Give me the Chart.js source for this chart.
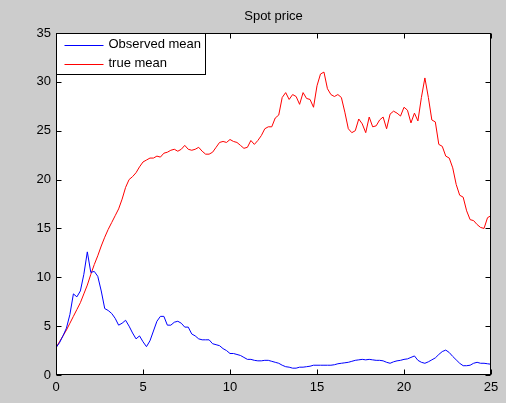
<!DOCTYPE html>
<html>
<head>
<meta charset="utf-8">
<script src="https://cdn.jsdelivr.net/npm/chart.js@4.4.1/dist/chart.umd.min.js"></script>
<style>
  html, body { margin: 0; padding: 0; background: #cccccc; }
  #wrap { width: 506px; height: 403px; }
</style>
</head>
<body>
<div id="wrap"><canvas id="spotChart" width="506" height="403"></canvas></div>
<script>
// sample spacing along the x axis (time)
const STEP = 0.2;

const xTicks = [0, 5, 10, 15, 20, 25];
const yTicks = [0, 5, 10, 15, 20, 25, 30, 35];

const seriesNames = ['Observed mean', 'true mean'];

// Observed mean, one value per STEP from 0 to 25
const observedMean = [
    2.8, 3.3, 4.0, 4.8, 6.2, 8.3, 8.0, 8.6, 10.3, 12.6,
    10.5, 10.6, 10.1, 8.6, 6.8, 6.6, 6.3, 5.8, 5.1, 5.3,
    5.6, 5.0, 4.3, 3.7, 4.0, 3.4, 2.9, 3.5, 4.5, 5.5,
    6.0, 6.0, 5.1, 5.1, 5.4, 5.5, 5.3, 4.9, 4.9, 4.2,
    4.0, 3.7, 3.6, 3.6, 3.6, 3.2, 3.1, 3.0, 2.7, 2.5,
    2.2, 2.2, 2.1, 2.0, 1.8, 1.6, 1.6, 1.5, 1.45, 1.45,
    1.5, 1.5, 1.4, 1.3, 1.2, 1.0, 0.85, 0.8, 0.7, 0.7,
    0.8, 0.8, 0.85, 0.9, 1.0, 1.0, 1.0, 1.0, 1.0, 1.0,
    1.05, 1.15, 1.2, 1.25, 1.3, 1.4, 1.5, 1.55, 1.6, 1.55,
    1.6, 1.55, 1.5, 1.5, 1.45, 1.3, 1.2, 1.35, 1.45, 1.5,
    1.6, 1.65, 1.8, 1.95, 1.5, 1.3, 1.2, 1.35, 1.55, 1.75,
    2.1, 2.4, 2.55, 2.3, 1.9, 1.55, 1.2, 0.95, 0.95, 1.0,
    1.2, 1.3, 1.2, 1.2, 1.15, 1.1
];

// true mean, same sampling
const trueMean = [
    2.8, 3.4, 4.0, 4.6, 5.3, 6.0, 6.7, 7.4, 8.3, 9.2,
    10.3, 11.3, 12.2, 13.2, 14.1, 14.9, 15.6, 16.3, 17.0, 18.0,
    19.2, 20.0, 20.3, 20.7, 21.3, 21.8, 22.0, 22.2, 22.2, 22.4,
    22.3, 22.7, 22.8, 23.0, 23.1, 22.9, 23.1, 23.5, 23.1, 23.0,
    23.1, 23.3, 22.9, 22.6, 22.6, 22.8, 23.3, 23.8, 23.9, 23.8,
    24.1, 23.9, 23.8, 23.5, 23.2, 23.3, 24.0, 23.6, 24.0, 24.5,
    25.2, 25.4, 25.4, 26.3, 26.6, 28.4, 28.9, 28.2, 28.7, 28.5,
    27.7, 28.9, 28.3, 28.2, 27.4, 29.6, 30.8, 31.0, 29.3, 28.7,
    28.5, 28.7, 28.4, 26.9, 25.2, 24.8, 25.0, 26.2, 25.7, 24.8,
    26.4, 25.4, 25.5, 26.1, 26.4, 25.2, 26.7, 27.0, 26.8, 26.5,
    27.4, 27.1, 25.8, 26.8, 26.0, 28.4, 30.4, 28.4, 26.1, 25.9,
    23.6, 23.4, 22.4, 22.2, 21.2, 19.5, 18.4, 18.2, 16.8, 15.9,
    15.8, 15.4, 15.1, 15.0, 16.1, 16.3
];

const FONT = 'Liberation Sans, Arial, sans-serif';
const toPoints = arr => arr.map((v, i) => ({ x: +(i * STEP).toFixed(2), y: v }));

// MATLAB style box: white axes, frame, inward ticks on all four sides, legend inside top-left
const matlabAxes = {
    id: 'matlabAxes',
    beforeDatasetsDraw(chart) {
        const { ctx, chartArea: a } = chart;
        ctx.save();
        ctx.fillStyle = '#fff';
        ctx.fillRect(a.left, a.top, a.width, a.height);
        ctx.restore();
    },
    afterDraw(chart) {
        const { ctx, chartArea: a, scales: { x, y } } = chart;
        const L = Math.round(a.left) + 0.5, R = Math.round(a.right) - 0.5;
        const T = Math.round(a.top) + 0.5, B = Math.round(a.bottom) - 0.5;
        ctx.save();
        ctx.strokeStyle = '#000';
        ctx.lineWidth = 1;
        ctx.beginPath();
        xTicks.forEach(v => {
            const px = Math.round(x.getPixelForValue(v)) + 0.5;
            ctx.moveTo(px, B); ctx.lineTo(px, B - 5);
            ctx.moveTo(px, T); ctx.lineTo(px, T + 5);
        });
        yTicks.forEach(v => {
            const py = Math.round(y.getPixelForValue(v)) + 0.5;
            ctx.moveTo(L, py); ctx.lineTo(L + 5, py);
            ctx.moveTo(R, py); ctx.lineTo(R - 5, py);
        });
        ctx.stroke();
        ctx.strokeRect(L, T, R - L, B - T);

        // legend box
        const colors = chart.data.datasets.map(d => d.borderColor);
        const boxW = 149, boxH = 41;
        ctx.fillStyle = '#fff';
        ctx.fillRect(L, T, boxW, boxH);
        ctx.strokeRect(L, T, boxW, boxH);
        ctx.font = '13px ' + FONT;
        ctx.textBaseline = 'middle';
        seriesNames.forEach((name, i) => {
            const cy = T + 11 + i * 19;
            ctx.strokeStyle = colors[i];
            ctx.beginPath();
            ctx.moveTo(L + 8, Math.round(cy) + 0.5);
            ctx.lineTo(L + 47, Math.round(cy) + 0.5);
            ctx.stroke();
            ctx.fillStyle = '#000';
            ctx.fillText(name, L + 52, cy);
        });
        ctx.restore();
    }
};

new Chart(document.getElementById('spotChart'), {
    type: 'line',
    data: {
        datasets: [
            { label: seriesNames[0], data: toPoints(observedMean), borderColor: '#0000ff', borderWidth: 1, pointRadius: 0, tension: 0 },
            { label: seriesNames[1], data: toPoints(trueMean), borderColor: '#ff0000', borderWidth: 1, pointRadius: 0, tension: 0 }
        ]
    },
    options: {
        responsive: false,
        animation: false,
        layout: { padding: { left: 0, right: 15, top: 0, bottom: 0 } },
        plugins: {
            legend: { display: false },
            tooltip: { enabled: false },
            title: {
                display: true,
                text: 'Spot price',
                fullSize: false,
                color: '#000',
                font: { family: FONT, size: 13, weight: 'normal' },
                padding: { top: 9, bottom: 8.4 }
            }
        },
        scales: {
            x: {
                type: 'linear',
                min: 0, max: 25,
                afterBuildTicks: s => { s.ticks = xTicks.map(v => ({ value: v })); },
                afterFit: s => { s.height = 28; },
                grid: { display: false, drawTicks: false },
                border: { display: false },
                ticks: { color: '#000', padding: 5, maxRotation: 0, font: { family: FONT, size: 13 } }
            },
            y: {
                min: 0, max: 35,
                afterBuildTicks: s => { s.ticks = yTicks.map(v => ({ value: v })); },
                afterFit: s => { s.width = 56; },
                grid: { display: false, drawTicks: false },
                border: { display: false },
                ticks: { color: '#000', padding: 5, font: { family: FONT, size: 13 } }
            }
        }
    },
    plugins: [matlabAxes]
});
</script>
</body>
</html>
